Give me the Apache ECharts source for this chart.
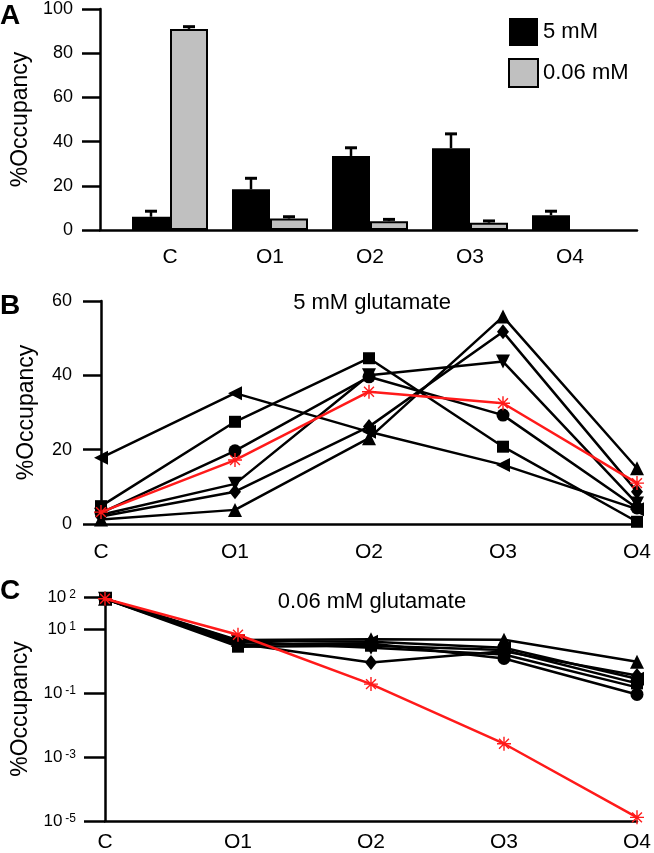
<!DOCTYPE html>
<html>
<head>
<meta charset="utf-8">
<script src="https://cdn.jsdelivr.net/npm/echarts@6/dist/echarts.min.js"></script>
<style>
html,body{margin:0;padding:0;background:#fff;}
#chart{width:654px;height:853px;}
</style>
</head>
<body>
<div id="chart"></div>
<script>
// ---------- data ----------
const categories = ['C', 'O1', 'O2', 'O3', 'O4'];

// Panel A (bars, mean and upward error)
const barNames = ['5 mM', '0.06 mM'];
const bar5mM = [6, 18.4, 33.5, 37, 6.7];
const err5mM = [2.5, 5, 3.7, 6.5, 1.8];
const bar006mM = [91, 5.2, 4, 3.3, null];
const err006mM = [1, 0.8, 0.8, 0.8, null];
const yTicksA = [0, 20, 40, 60, 80, 100];

// Panel B (5 mM glutamate)
const bLeftTri = [17.8, 35.2, 24.8, 15.9, 4];
const bSquare  = [4.8, 27.5, 44.6, 20.8, 0.6];
const bCircle  = [3, 19.7, 39.6, 29.3, 4.3];
const bDownTri = [2.5, 10.8, 40, 43.7, 5.5];
const bDiamond = [2, 8.7, 26.2, 51.7, 8.7];
const bUpTri   = [1.2, 3.8, 23.1, 55.8, 15];
const bRed     = [3.2, 17.2, 35.6, 32.5, 11];

// Panel C (0.06 mM glutamate, log scale)
const cLeftTri = [88, 4.2, 4.0, 2.6, 0.28];
const cSquare  = [88, 2.8, 3.0, 2.2, 0.2];
const cCircle  = [88, 3.2, 3.5, 1.2, 0.09];
const cDownTri = [88, 4.0, 2.6, 1.6, 0.15];
const cDiamond = [88, 3.5, 0.9, 2.0, 0.35];
const cUpTri   = [88, 4.5, 4.8, 4.6, 0.95];
const cRed     = [88, 6.6, 0.19, 0.0026, 0.000013];
const yTicksC = [100, 10, 0.1, 0.001, 0.00001];

// ---------- style ----------
const FONT = 'Liberation Sans, Arial, Helvetica, sans-serif';
const AX = {color: '#000', width: 2.5};
const ASTERISK = 'path://M-1,-10 L1,-10 L1,10 L-1,10 Z M-10,-1 L10,-1 L10,1 L-10,1 Z ' +
  'M-6.36,-7.78 L7.78,6.36 L6.36,7.78 L-7.78,-6.36 Z M7.78,-6.36 L-6.36,7.78 L-7.78,6.36 L6.36,-7.78 Z';

const markerDefs = [
  {key: 'leftTri', symbol: 'triangle', rotate: 90, size: 14},
  {key: 'square', symbol: 'rect', rotate: 0, size: 12},
  {key: 'circle', symbol: 'circle', rotate: 0, size: 13},
  {key: 'downTri', symbol: 'triangle', rotate: 180, size: 14},
  {key: 'diamond', symbol: 'diamond', rotate: 0, size: [12, 15]},
  {key: 'upTri', symbol: 'triangle', rotate: 0, size: 14}
];
const bData = {leftTri: bLeftTri, square: bSquare, circle: bCircle, downTri: bDownTri, diamond: bDiamond, upTri: bUpTri};
const cData = {leftTri: cLeftTri, square: cSquare, circle: cCircle, downTri: cDownTri, diamond: cDiamond, upTri: cUpTri};

function lineSeries(data, def, xi, yi) {
  return {
    type: 'line', xAxisIndex: xi, yAxisIndex: yi, data: data,
    symbol: def.symbol, symbolRotate: def.rotate, symbolSize: def.size,
    showAllSymbol: true,
    lineStyle: {color: '#000', width: 2.5},
    itemStyle: {color: '#000'},
    emphasis: {disabled: true}, silent: true, animation: false, z: 2
  };
}
function redSeries(data, xi, yi) {
  return {
    type: 'line', xAxisIndex: xi, yAxisIndex: yi, data: data,
    symbol: ASTERISK, symbolSize: 14,
    lineStyle: {color: '#ff1a1a', width: 2.5},
    itemStyle: {color: '#ff1a1a'},
    emphasis: {disabled: true}, silent: true, animation: false, z: 5
  };
}
function errRender(side) {
  return function (params, api) {
    const xi = api.value(0), v = api.value(1), e = api.value(2);
    if (!(e > 0)) return;
    const base = api.coord([xi, v]);
    const top = api.coord([xi, v + e]);
    const band = api.size([1, 0])[0];
    const x = base[0] + side * band * 0.19;
    return {type: 'group', children: [
      {type: 'line', shape: {x1: x, y1: base[1], x2: x, y2: top[1]}, style: {stroke: '#000', lineWidth: 2.5}},
      {type: 'line', shape: {x1: x - 6, y1: top[1], x2: x + 6, y2: top[1]}, style: {stroke: '#000', lineWidth: 3}}
    ]};
  };
}
function errData(vals, errs) {
  return categories.map((c, i) => [i, vals[i], errs[i]]).filter(d => d[1] != null);
}

const yNameStyle = {fontFamily: FONT, fontSize: 23, color: '#000'};
const tickLabel = {fontFamily: FONT, fontSize: 18, color: '#000'};
const catLabel = {fontFamily: FONT, fontSize: 21, color: '#000'};

const series = [];
// Panel A bars
series.push({
  name: barNames[0], type: 'bar', xAxisIndex: 0, yAxisIndex: 0, data: bar5mM,
  barWidth: 38, barGap: '0%', itemStyle: {color: '#000'}, silent: true, animation: false
});
series.push({
  name: barNames[1], type: 'bar', xAxisIndex: 0, yAxisIndex: 0, data: bar006mM,
  barWidth: 38, barGap: '0%', itemStyle: {color: '#c0c0c0', borderColor: '#000', borderWidth: 2},
  silent: true, animation: false
});
series.push({type: 'custom', xAxisIndex: 0, yAxisIndex: 0, renderItem: errRender(-1),
  data: errData(bar5mM, err5mM), silent: true, animation: false, z: 3});
series.push({type: 'custom', xAxisIndex: 0, yAxisIndex: 0, renderItem: errRender(1),
  data: errData(bar006mM, err006mM), silent: true, animation: false, z: 3});
// Panel B
markerDefs.forEach(def => series.push(lineSeries(bData[def.key], def, 2, 2)));
series.push(redSeries(bRed, 2, 2));
// Panel C
markerDefs.forEach(def => series.push(lineSeries(cData[def.key], def, 3, 3)));
series.push(redSeries(cRed, 3, 3));

const option = {
  backgroundColor: '#fff',
  animation: false,
  textStyle: {fontFamily: FONT},
  grid: [
    {left: 120, width: 500, top: 7, height: 223},
    {left: 100, width: 537, top: 7, height: 223},
    {left: 101, width: 537, top: 301, height: 223},
    {left: 105, width: 535, top: 597, height: 224}
  ],
  legend: {
    data: barNames, orient: 'vertical', left: 503, top: 13,
    itemWidth: 29, itemHeight: 28, itemGap: 12, icon: 'rect',
    textStyle: {fontFamily: FONT, fontSize: 22, color: '#000'},
    selectedMode: false
  },
  xAxis: [
    {gridIndex: 0, type: 'category', data: categories, boundaryGap: true,
      axisLine: {show: false}, axisTick: {show: false},
      axisLabel: Object.assign({margin: 17}, catLabel)},
    {gridIndex: 1, type: 'value', min: 0, max: 1,
      axisLine: {show: true, onZero: false, lineStyle: AX}, axisTick: {show: false},
      axisLabel: {show: false}, splitLine: {show: false}},
    {gridIndex: 2, type: 'category', data: categories, boundaryGap: false,
      axisLine: {lineStyle: AX}, axisTick: {show: false},
      axisLabel: Object.assign({margin: 18}, catLabel)},
    {gridIndex: 3, type: 'category', data: categories, boundaryGap: false,
      axisLine: {lineStyle: AX, onZero: false}, axisTick: {show: false},
      axisLabel: Object.assign({margin: 11}, catLabel)}
  ],
  yAxis: [
    {gridIndex: 0, type: 'value', min: yTicksA[0], max: yTicksA[yTicksA.length - 1], interval: 20,
      offset: 20,
      name: '%Occupancy', nameLocation: 'middle', nameGap: 62, nameTextStyle: yNameStyle,
      axisLine: {show: true, lineStyle: AX}, axisTick: {show: true, length: 18, lineStyle: AX},
      axisLabel: Object.assign({margin: 27}, tickLabel), splitLine: {show: false}},
    {gridIndex: 1, type: 'value', min: 0, max: 1, show: false},
    {gridIndex: 2, type: 'value', min: 0, max: 60, interval: 20,
      name: '%Occupancy', nameLocation: 'middle', nameGap: 63, nameTextStyle: yNameStyle,
      axisLine: {show: true, lineStyle: AX}, axisTick: {show: true, length: 18, lineStyle: AX},
      axisLabel: Object.assign({margin: 29}, tickLabel), splitLine: {show: false}},
    {gridIndex: 3, type: 'log', logBase: 10, min: 0.00001, max: 100,
      name: '%Occupancy', nameLocation: 'middle', nameGap: 67, nameTextStyle: yNameStyle,
      axisLine: {show: true, lineStyle: AX},
      axisTick: {show: true, length: 21, lineStyle: AX, customValues: yTicksC},
      axisLabel: {margin: 29, customValues: yTicksC, fontFamily: FONT, fontSize: 17, color: '#000',
        formatter: function (v) { return '{b|10}{s|' + Math.round(Math.log10(v)) + '}'; },
        rich: {
          b: {fontFamily: FONT, fontSize: 17, color: '#000', verticalAlign: 'bottom', lineHeight: 17},
          s: {fontFamily: FONT, fontSize: 12, color: '#000', verticalAlign: 'top', lineHeight: 12, padding: [0, 0, 10, 3]}
        }},
      splitLine: {show: false}, minorTick: {show: false}}
  ],
  graphic: [
    {type: 'text', x: 0, y: 16, style: {text: 'A', font: 'bold 28px ' + FONT, fill: '#000', textVerticalAlign: 'middle'}},
    {type: 'text', x: 0, y: 306, style: {text: 'B', font: 'bold 28px ' + FONT, fill: '#000', textVerticalAlign: 'middle'}},
    {type: 'text', x: 0, y: 591, style: {text: 'C', font: 'bold 28px ' + FONT, fill: '#000', textVerticalAlign: 'middle'}},
    {type: 'text', x: 372, y: 303, style: {text: '5 mM glutamate', font: '22px ' + FONT, fill: '#000', textAlign: 'center', textVerticalAlign: 'middle'}},
    {type: 'text', x: 372, y: 602, style: {text: '0.06 mM glutamate', font: '22px ' + FONT, fill: '#000', textAlign: 'center', textVerticalAlign: 'middle'}}
  ],
  series: series
};

const chart = echarts.init(document.getElementById('chart'), null, {renderer: 'canvas'});
chart.setOption(option);
</script>
</body>
</html>
